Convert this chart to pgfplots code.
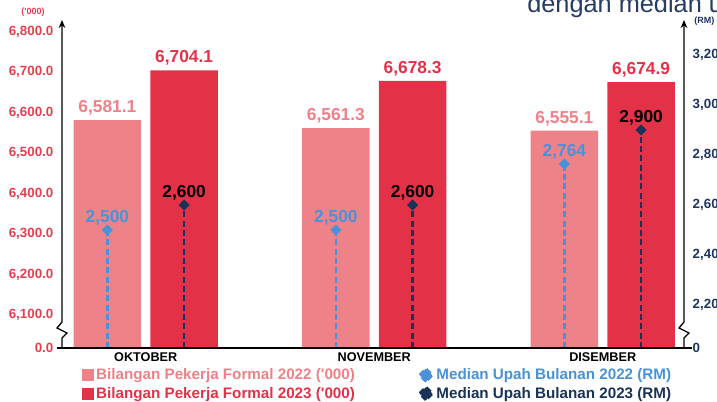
\documentclass[border=0pt]{standalone}
\usepackage{pgfplots}
\pgfplotsset{compat=1.18}
\usepackage{pgfplotstable}
\usetikzlibrary{arrows.meta}
\usepackage{fontspec}
\setmainfont{Liberation Sans}

\definecolor{bar22}{RGB}{238,130,137}
\definecolor{bar23}{RGB}{227,50,72}
\definecolor{lab22}{RGB}{240,128,136}
\definecolor{lab23}{RGB}{227,50,72}
\definecolor{med22}{RGB}{74,146,216}
\definecolor{med23}{RGB}{25,50,88}
\definecolor{navy}{RGB}{30,52,95}
\definecolor{tickred}{RGB}{230,62,78}
\definecolor{titlec}{RGB}{38,60,100}

\pgfplotstableread{
x y
0 6581.1
1 6561.3
2 6555.1
}\barA
\pgfplotstableread{
x y
0 6704.1
1 6678.3
2 6674.9
}\barB
\pgfplotstableread{
x y
0 2500
1 2500
2 2764
}\medA
\pgfplotstableread{
x y
0 2600
1 2600
2 2900
}\medB

\pgfplotsset{
  base/.style={
    scale only axis, width=466.5pt, height=246pt,
    at={(46.5pt,39.75pt)}, anchor=south west,
    xmin=-0.3665, xmax=2.3556, ymin=0,
    axis line style={draw=none}, major tick length=0pt, tick style={draw=none},
    /pgf/number format/assume math mode=true,
  },
}

\begin{document}
\begin{tikzpicture}
\begin{axis}[base,
  ymax=810,
  ybar, bar width=0.295,
  ytick={0,81.5,181.5,281.5,381.5,481.5,581.5,681.5,781.5},
  yticklabels={0.0,{6,100.0},{6,200.0},{6,300.0},{6,400.0},{6,500.0},{6,600.0},{6,700.0},{6,800.0}},
  yticklabel style={font=\bfseries\fontsize{10}{12}\selectfont, text=tickred, xshift=-3pt},
  xtick={0,1,2},
  xticklabels={OKTOBER,NOVEMBER,DISEMBER},
  xticklabel style={font=\bfseries\fontsize{9.5}{11}\selectfont, text=black},
  legend cell align=left,
  legend style={at={(0.031,-0.054)}, anchor=north west, draw=none, fill=none,
    font=\bfseries\fontsize{11.4}{13.5}\selectfont, inner sep=0pt, row sep=0pt},
  nodes near coords={\pgfmathprintnumber[fixed,fixed zerofill,precision=1,assume math mode=true]{\pgfplotspointmeta}},
  nodes near coords style={font=\bfseries\fontsize{13}{15}\selectfont},
]
\addplot[fill=bar22, draw=none, bar shift=-0.168, point meta=explicit,
  every node near coord/.append style={text=lab22},
  legend image code/.code={\fill[bar22] (0pt,-4.5pt) rectangle (9pt,4.5pt);}]
  table[x=x, y expr=\thisrow{y}-6018.5, meta=y] {\barA};
\addlegendentry{\textcolor{lab22}{Bilangan Pekerja Formal 2022 (\textquotesingle000)}}
\addplot[fill=bar23, draw=none, bar shift=0.168, point meta=explicit,
  every node near coord/.append style={text=lab23},
  legend image code/.code={\fill[bar23] (0pt,-4.5pt) rectangle (9pt,4.5pt);}]
  table[x=x, y expr=\thisrow{y}-6018.5, meta=y] {\barB};
\addlegendentry{\textcolor{lab23}{Bilangan Pekerja Formal 2023 (\textquotesingle000)}}
\end{axis}

\begin{axis}[base, name=ax,
  ymax=1312,
  ytick={0,172,372,572,772,972,1172},
  yticklabels={0,{2,200},{2,400},{2,600},{2,800},{3,000},{3,200}},
  yticklabel pos=right,
  yticklabel style={font=\bfseries\fontsize{10}{12}\selectfont, text=navy, xshift=3pt},
  xtick=\empty,
  legend cell align=left,
  legend style={at={(0.5723,-0.054)}, anchor=north west, draw=none, fill=none,
    font=\bfseries\fontsize{11.4}{13.5}\selectfont, inner sep=0pt, row sep=0pt},
  nodes near coords={\pgfmathprintnumber[fixed,precision=0,assume math mode=true]{\pgfplotspointmeta}},
  nodes near coords style={font=\bfseries\fontsize{13}{15}\selectfont, yshift=0.5pt},
]
\addplot[ycomb, color=med22, line width=2pt, dash pattern=on 4.5pt off 2.5pt,
  mark=square*, mark size=2.8pt, mark options={solid, rotate=45, fill=med22, line width=0.2pt},
  point meta=explicit, every node near coord/.append style={text=med22},
  legend image code/.code={\fill[med22,rotate=45] (-3.4pt,-3.4pt) rectangle (3.4pt,3.4pt);}]
  table[x expr=\thisrow{x}-0.168, y expr=\thisrow{y}-2028, meta=y] {\medA};
\addlegendentry{\textcolor{med22}{Median Upah Bulanan 2022 (RM)}}
\addplot[ycomb, color=med23, line width=2pt, dash pattern=on 4.5pt off 2.5pt,
  mark=square*, mark size=2.8pt, mark options={solid, rotate=45, fill=med23, line width=0.2pt},
  point meta=explicit, every node near coord/.append style={text=black},
  legend image code/.code={\fill[med23,rotate=45] (-3.4pt,-3.4pt) rectangle (3.4pt,3.4pt);}]
  table[x expr=\thisrow{x}+0.168, y expr=\thisrow{y}-2028, meta=y] {\medB};
\addlegendentry{\textcolor{med23}{Median Upah Bulanan 2023 (RM)}}
\end{axis}

% axis lines with break marks
\draw[line width=1pt, -{Stealth[length=6pt,width=5pt]}]
  (ax.south west) -- ++(0,7.5pt) -- ++(3.75pt,3.75pt) -- ++(-7.5pt,3.75pt)
  -- ++(3.75pt,4.5pt) -- (ax.north west);
\draw[line width=1pt, -{Stealth[length=6pt,width=5pt]}]
  (ax.south east) -- ++(0,7.5pt) -- ++(3.75pt,3.75pt) -- ++(-7.5pt,3.75pt)
  -- ++(3.75pt,4.5pt) -- (ax.north east);
\draw[line width=1pt] ([xshift=-4pt]ax.south west) -- ([xshift=6pt]ax.south east);

\node[anchor=base west, text=titlec, font=\fontsize{19}{21}\selectfont, inner sep=0pt]
  at (395.25pt,291.4pt) {dengan median upah};
\node[text=tickred, font=\bfseries\fontsize{6.75}{8}\selectfont, inner sep=0pt]
  at (24.75pt,291.75pt) {(\textquotesingle000)};
\node[anchor=west, text=navy, font=\bfseries\fontsize{6.75}{8}\selectfont, inner sep=0pt]
  at (520.5pt,285pt) {(RM)};

\pgfresetboundingbox
\useasboundingbox (0,0) rectangle (537.75pt,300.75pt);
\end{tikzpicture}
\end{document}
